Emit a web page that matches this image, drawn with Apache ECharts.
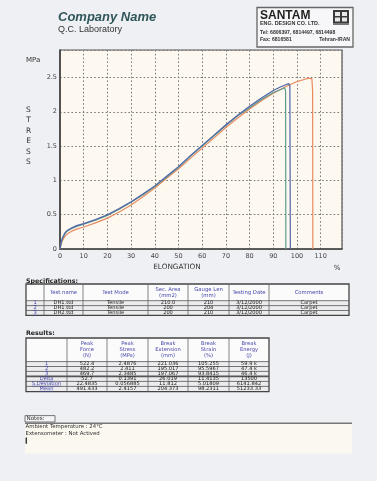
<!DOCTYPE html>
<html><head><meta charset="utf-8">
<script src="https://cdn.jsdelivr.net/npm/echarts@6/dist/echarts.min.js"></script>
<style>html,body{margin:0;padding:0;background:#eff0f4;}#c{width:377px;height:481px;}</style>
</head><body><div id="c"></div>
<script>
// ---- curve data (Elongation %, Stress MPa) ----
const s1Strain = [0,0.5,1,2,3,5,7,10,15,20,25,30,35,40,45,50,55,60,65,70,75,80,85,90,95,100,103,105,106.3,106.6,106.7];
const s1Stress = [0,0.07,0.12,0.18,0.22,0.26,0.29,0.32,0.38,0.45,0.54,0.64,0.76,0.89,1.03,1.17,1.32,1.47,1.62,1.77,1.91,2.04,2.16,2.27,2.36,2.44,2.47,2.49,2.48,2.3,0];
const s2Strain = [0,0.5,1,2,3,5,7,10,15,20,25,30,35,40,45,50,55,60,65,70,75,80,85,90,93,95,96.5,97,97.2];
const s2Stress = [0,0.1,0.16,0.23,0.27,0.31,0.34,0.37,0.43,0.5,0.59,0.69,0.8,0.92,1.06,1.2,1.36,1.51,1.66,1.81,1.95,2.08,2.2,2.31,2.36,2.39,2.41,2.38,0];
const s3Strain = [0,0.5,1,2,3,5,7,10,15,20,25,30,35,40,45,50,55,60,65,70,75,80,85,90,93,94.8,95.2,95.3];
const s3Stress = [0,0.09,0.15,0.22,0.26,0.3,0.33,0.36,0.42,0.49,0.58,0.68,0.79,0.91,1.05,1.19,1.35,1.5,1.65,1.8,1.94,2.06,2.18,2.28,2.32,2.35,2.3,0];

// ---- specifications table ----
const specHeaders = ['', 'Test name', 'Test Mode', 'Sec. Area\n(mm2)', 'Gauge Len\n(mm)', 'Testing Date', 'Comments'];
const specIds = ['1','2','3'];
const specTestName = ['DH1.ttd','DH1.ttd','DH2.ttd'];
const specTestMode = ['Tensile','Tensile','Tensile'];
const specSecArea = ['210.0','200','200'];
const specGaugeLen = ['210','204','210'];
const specDate = ['3/12/2000','3/12/2000','3/12/2000'];
const specComments = ['Carpet','Carpet','Carpet'];

// ---- results table ----
const resHeaders = ['', 'Peak\nForce\n(N)', 'Peak\nStress\n(MPa)', 'Break\nExtension\n(mm)', 'Break\nStrain\n(%)', 'Break\nEnergy\n(J)'];
const resLabels = ['1','2','3','Delta','S.Deviation','Mean'];
const resPeakForce = ['522.4','482.2','469.7','52.7','22.4835','491.433'];
const resPeakStress = ['2.4876','2.411','2.3485','0.1391','0.056885','2.4157'];
const resBreakExt = ['221.036','195.017','197.067','26.019','11.812','204.373'];
const resBreakStrain = ['105.255','95.5967','93.8415','11.4135','5.01809','98.2311'];
const resBreakEnergy = ['59.9 k','47.4 k','46.4 k','13500','6141.842','51233.33'];

const notes = ['Ambient Temperature : 24°C', 'Extensometer : Not Actived'];

const zip = (a,b) => a.map((v,i)=>[v,b[i]]);

const G = [];
const measure = (function(){ const c=document.createElement('canvas').getContext('2d'); return (t,f)=>{c.font=f;return c.measureText(t).width;}; })();
function txt(x,y,text,font,fill,align,valign,extra){
  const st = Object.assign({x:x,y:y,text:text,font:font,fill:fill||'#333',align:align||'left',verticalAlign:valign||'middle'}, extra||{});
  G.push({type:'text',silent:true,z:10,style:st});
}
function rect(x,y,w,h,fill,stroke,lw){
  G.push({type:'rect',silent:true,z:5,shape:{x:x,y:y,width:w,height:h},style:{fill:fill||'none',stroke:stroke||null,lineWidth:lw||0}});
}
function line(x1,y1,x2,y2,stroke,lw){
  G.push({type:'line',silent:true,z:6,shape:{x1:x1,y1:y1,x2:x2,y2:y2},style:{stroke:stroke,lineWidth:lw}});
}

// Header
txt(58,17.5,'Company Name','bold italic 13px "Liberation Sans"','#2f5658');
txt(58,29.5,'Q.C. Laboratory','9px "Liberation Sans"','#333');
rect(257,7.5,96,39.5,'#f7f7f9','#666',1.3);
txt(260,15.5,'SANTAM','bold 12px "Liberation Sans"','#1f1f1f');
txt(260,24,'ENG. DESIGN CO. LTD.','bold 5.4px "Liberation Sans"','#333');
txt(260,32.7,'Tel: 6806397, 6814497, 6814498','bold 5.1px "Liberation Sans"','#333');
txt(260,39.3,'Fax: 6816581','bold 5.1px "Liberation Sans"','#333');
txt(350,39.3,'Tehran-IRAN','bold 5.1px "Liberation Sans"','#333','right');
rect(333,10,16,15,'#3a3a3a');
rect(335,12,5,4,'#e8e8e8'); rect(342,12,5,4,'#e8e8e8'); rect(335,17.5,5,4,'#e8e8e8'); rect(342,17.5,5,4,'#e8e8e8');
rect(333,23,16,2,'#777');

// axis titles
txt(26,60,'MPa','7px "DejaVu Sans"','#333');
txt(28.5,136,'S\nT\nR\nE\nS\nS','7.5px "DejaVu Sans"','#333','center','middle',{lineHeight:10.4});
txt(177,267.5,'ELONGATION','7.3px "DejaVu Sans"','#333','center');
txt(337,268.5,'%','7px "DejaVu Sans"','#333','center');

// Table builder
function table(colX,rowY,headers,rows,opt){
  const x0=colX[0], x1=colX[colX.length-1], y0=rowY[0], y1=rowY[rowY.length-1];
  rect(x0,y0,x1-x0,rowY[1]-y0,'#fbfbfc');
  rect(x0,rowY[1],x1-x0,y1-rowY[1],'#ececee');
  for(let i=1;i<colX.length-1;i++) line(colX[i],y0,colX[i],y1,'#666',0.8);
  for(let j=1;j<rowY.length-1;j++) line(x0,rowY[j],x1,rowY[j],'#555',(opt.thick&&opt.thick.indexOf(j)>=0)?1.6:0.8);
  rect(x0,y0,x1-x0,y1-y0,null,'#444',1.3);
  const hf = opt.hFont, df = opt.dFont;
  headers.forEach((h,i)=>{ if(!h) return; txt((colX[i]+colX[i+1])/2,(y0+rowY[1])/2,h,hf,'#4545a8','center','middle',{lineHeight:opt.hLine}); });
  rows.forEach((r,j)=>{
    const cy=(rowY[j+1]+rowY[j+2])/2;
    r.forEach((v,i)=>{
      const cx=(colX[i]+colX[i+1])/2;
      if(i===0){
        txt(cx,cy,v,df,'#4545a8','center');
        const w=measure(v,df);
        line(cx-w/2,cy+2.3,cx+w/2,cy+2.3,'#4545a8',0.5);
      } else txt(cx,cy,v,df,'#222','center');
    });
  });
}

// Specifications
txt(26,281,'Specifications:','bold 6.3px "DejaVu Sans"','#222');
const specRows = specIds.map((id,i)=>[id,specTestName[i],specTestMode[i],specSecArea[i],specGaugeLen[i],specDate[i],specComments[i]]);
table([26,44,83,148,188,229,269,349],[284,300.7,305.6,310.5,315.4],specHeaders,specRows,{hFont:'5.3px "DejaVu Sans"',dFont:'5.1px "DejaVu Sans"',hLine:6});

// Results
txt(26,333,'Results:','bold 6.3px "DejaVu Sans"','#222');
const resRows = resLabels.map((l,i)=>[l,resPeakForce[i],resPeakStress[i],resBreakExt[i],resBreakStrain[i],resBreakEnergy[i]]);
table([26,67,107,148,188,229,269],[338,361.6,366.5,371.4,376.4,381.4,386.4,391.6],resHeaders,resRows,{hFont:'5.2px "DejaVu Sans"',dFont:'5.1px "DejaVu Sans"',hLine:6,thick:[4]});

// Notes
rect(25,424,327,29.5,'#fbf8f0');
line(25,423.2,352,423.2,'#777',1.4);
rect(25,415.6,30,6.4,'#f4f4f6','#555',0.8);
txt(26.5,419,'Notes:','5.6px "DejaVu Sans"','#333');
txt(25.5,427,notes[0],'5.4px "DejaVu Sans"','#333');
txt(25.5,434,notes[1],'5.4px "DejaVu Sans"','#333');
rect(25.6,437.5,1.3,6.3,'#222');

const chart = echarts.init(document.getElementById('c'),null,{renderer:'canvas'});
chart.setOption({
  backgroundColor:'#eff0f4',
  animation:false,
  grid:{left:60,top:50,width:282,height:199,show:true,backgroundColor:'#fdf9f0',borderColor:'#555',borderWidth:1.2},
  xAxis:{type:'value',min:0,max:119,interval:10,
    axisLine:{show:true,onZero:false,lineStyle:{color:'#444',width:1.6}},
    axisTick:{show:false},
    axisLabel:{fontSize:6.5,color:'#444',margin:4,showMaxLabel:false,fontFamily:'DejaVu Sans'},
    splitLine:{show:true,lineStyle:{color:'#7a7a7a',width:1,type:[1.6,2.2]}}},
  yAxis:{type:'value',min:0,max:2.9,interval:0.5,
    axisLine:{show:true,onZero:false,lineStyle:{color:'#444',width:1.6}},
    axisTick:{show:false},
    axisLabel:{fontSize:6.5,color:'#444',margin:3,showMaxLabel:false,fontFamily:'DejaVu Sans'},
    splitLine:{show:true,lineStyle:{color:'#7a7a7a',width:1,type:[1.6,2.2]}}},
  series:[
    {type:'line',data:zip(s1Strain,s1Stress),showSymbol:false,lineStyle:{color:'#e98a5e',width:1.2},z:2},
    {type:'line',data:zip(s3Strain,s3Stress),showSymbol:false,lineStyle:{color:'#5f9a8c',width:1.2},z:3},
    {type:'line',data:zip(s2Strain,s2Stress),showSymbol:false,lineStyle:{color:'#4f64a8',width:1.2},z:4}
  ],
  graphic:G
});
</script></body></html>
